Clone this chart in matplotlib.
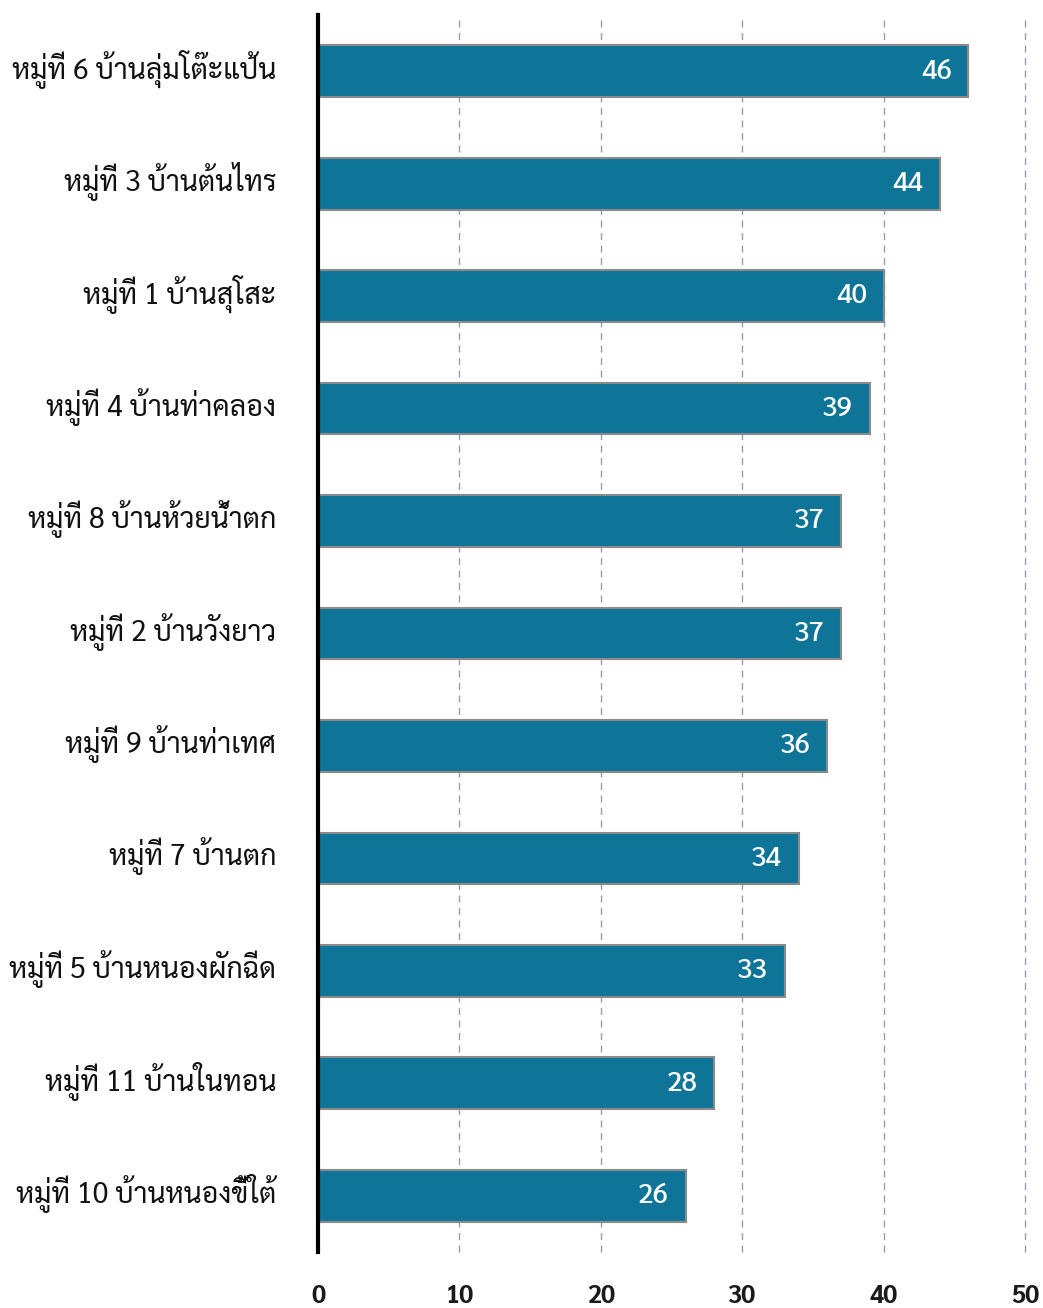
import matplotlib
matplotlib.use('Agg')
import matplotlib.pyplot as plt
from matplotlib.transforms import ScaledTranslation

# จำนวน (หมู่บ้าน)
villages = ['หมู่ที่ 6 บ้านลุ่มโต๊ะแป้น', 'หมู่ที่ 3 บ้านต้นไทร', 'หมู่ที่ 1 บ้านสุโสะ',
    'หมู่ที่ 4 บ้านท่าคลอง', 'หมู่ที่ 8 บ้านห้วยน้ำตก', 'หมู่ที่ 2 บ้านวังยาว',
    'หมู่ที่ 9 บ้านท่าเทศ', 'หมู่ที่ 7 บ้านตก', 'หมู่ที่ 5 บ้านหนองผักฉีด',
    'หมู่ที่ 11 บ้านในทอน', 'หมู่ที่ 10 บ้านหนองขี้ใต้']
values = [46, 44, 40, 39, 37, 37, 36, 34, 33, 28, 26]
xticks = [0, 10, 20, 30, 40, 50]

plt.rcParams['font.family'] = ['Sarabun', 'DejaVu Sans']

fig = plt.figure(figsize = (10.43, 13.08), dpi = 100)
ax = fig.add_axes([0.3049, 0.0428, 0.6779, 0.9457])

y = list(range(len(villages)))[::-1]
ax.barh(y, values, height = 0.46, color = '#0e7599', edgecolor = '#8a8a8a', linewidth = 1.5, zorder = 3)
for yi, v in zip(y, values):
    ax.annotate(str(v), (v, yi), xytext = (-12, 0), textcoords = 'offset points',
        ha = 'right', va = 'center', color = 'white', fontsize = 20, fontweight = 'medium', zorder = 4)

ax.set_xlim(0, 50)
ax.set_ylim(-0.5, len(villages) - 0.5)
ax.set_xticks(xticks)
ax.set_xticklabels([str(t) for t in xticks], fontsize = 18, fontweight = 'bold', color = '#1a1a1a')
ax.set_yticks(y)
ax.set_yticklabels(villages, fontsize = 20.5, fontweight = 'normal', color = '#111111')
ax.tick_params(axis = 'x', length = 0, pad = 24)
ax.tick_params(axis = 'y', length = 0, pad = 30)
up = ScaledTranslation(0, 5/72, fig.dpi_scale_trans)
for lbl in ax.get_yticklabels():
    lbl.set_transform(lbl.get_transform() + up)
ax.xaxis.grid(True, linestyle = (0, (5, 4)), color = '#9a9ab8', linewidth = 1)
for g in ax.get_xgridlines():
    g.set_clip_on(False)
ax.set_axisbelow(True)
for s in ('top', 'right', 'bottom'):
    ax.spines[s].set_visible(False)
ax.spines['left'].set_linewidth(3)
ax.spines['left'].set_color('black')
ax.spines['left'].set_zorder(5)

fig.savefig('out.png', dpi = 100)
